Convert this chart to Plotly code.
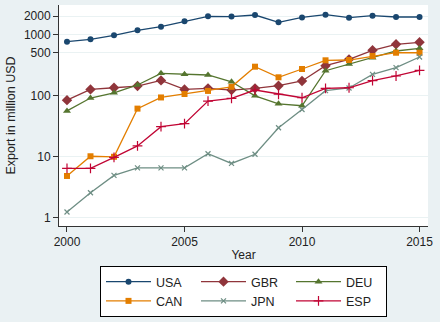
import plotly.graph_objects as go
import numpy as np

years = list(range(2000, 2016))
usa = [762, 834, 971, 1173, 1342, 1644, 1987, 1970, 2089, 1585, 1910, 2113, 1888, 2037, 1936, 1936]
gbr = [84, 126, 134, 143, 177, 126, 131, 123, 131, 145, 173, 308, 392, 551, 691, 745]
deu = [56, 91, 111, 149, 231, 223, 217, 168, 99, 73, 68, 255, 328, 417, 537, 594]
can = [4.8, 10.1, 9.9, 61, 93, 106, 119, 139, 297, 199, 272, 378, 382, 444, 503, 503]
jpn = [1.23, 2.55, 4.9, 6.5, 6.5, 6.5, 11.1, 7.7, 10.9, 29.6, 59, 120, 133, 222, 286, 428]
esp = [6.4, 6.4, 9.7, 14.9, 30.8, 34.5, 81, 90, 123, 105, 92, 131, 134, 175, 209, 259]

series = [
    ("USA", usa, "#1a476f", "circle", 6),
    ("GBR", gbr, "#90353b", "diamond", 8),
    ("DEU", deu, "#55752f", "triangle-up", 7),
    ("CAN", can, "#e37e00", "square", 6),
    ("JPN", jpn, "#6e8e84", "x-thin-open", 5),
    ("ESP", esp, "#c10534", "cross-thin-open", 7),
]

ytickvals = [1, 10, 100, 500, 1000, 2000]
yticktext = ["1", "10", "100", "500", "1000", "2000"]
xtickvals = [2000, 2005, 2010, 2015]

FONT = "Liberation Sans, Arial, sans-serif"

fig = go.Figure()
for name, vals, col, sym, sz in series:
    fig.add_trace(go.Scatter(
        x=years, y=vals, name=name, mode="lines+markers",
        line=dict(color=col, width=1.3),
        marker=dict(symbol=sym, size=sz, color=col,
                    line=dict(color=col, width=1.2 if "open" in sym else 0)),
    ))

fig.update_layout(
    width=440, height=322,
    paper_bgcolor="#eaf1f3", plot_bgcolor="#ffffff",
    margin=dict(l=59, r=12, t=5, b=96),
    font=dict(family=FONT, size=12, color="#222222"),
    showlegend=True,
    legend=dict(
        orientation="h", x=0.5, xanchor="center", y=-0.181, yanchor="top",
        bordercolor="#000000", borderwidth=1, bgcolor="#ffffff",
        entrywidth=35, itemwidth=45, font=dict(size=12.5),
        tracegroupgap=0,
    ),
    xaxis=dict(
        range=[1999.66, 2015.36], tickvals=xtickvals,
        showgrid=False, zeroline=False,
        showline=True, linecolor="#333333", linewidth=1,
        ticks="outside", ticklen=5, tickcolor="#333333",
        title=dict(text="Year", font=dict(size=12), standoff=2),
        tickfont=dict(size=12),
    ),
    yaxis=dict(
        type="log", range=[-0.139, 3.484],
        tickvals=ytickvals, ticktext=yticktext,
        showgrid=True, gridcolor="#eaf2f3", gridwidth=1, zeroline=False,
        showline=True, linecolor="#333333", linewidth=1,
        ticks="outside", ticklen=5, tickcolor="#333333",
        title=dict(text="Export in million USD", font=dict(size=12.5), standoff=5),
        tickfont=dict(size=12),
    ),
)

fig.write_html("out.html")
